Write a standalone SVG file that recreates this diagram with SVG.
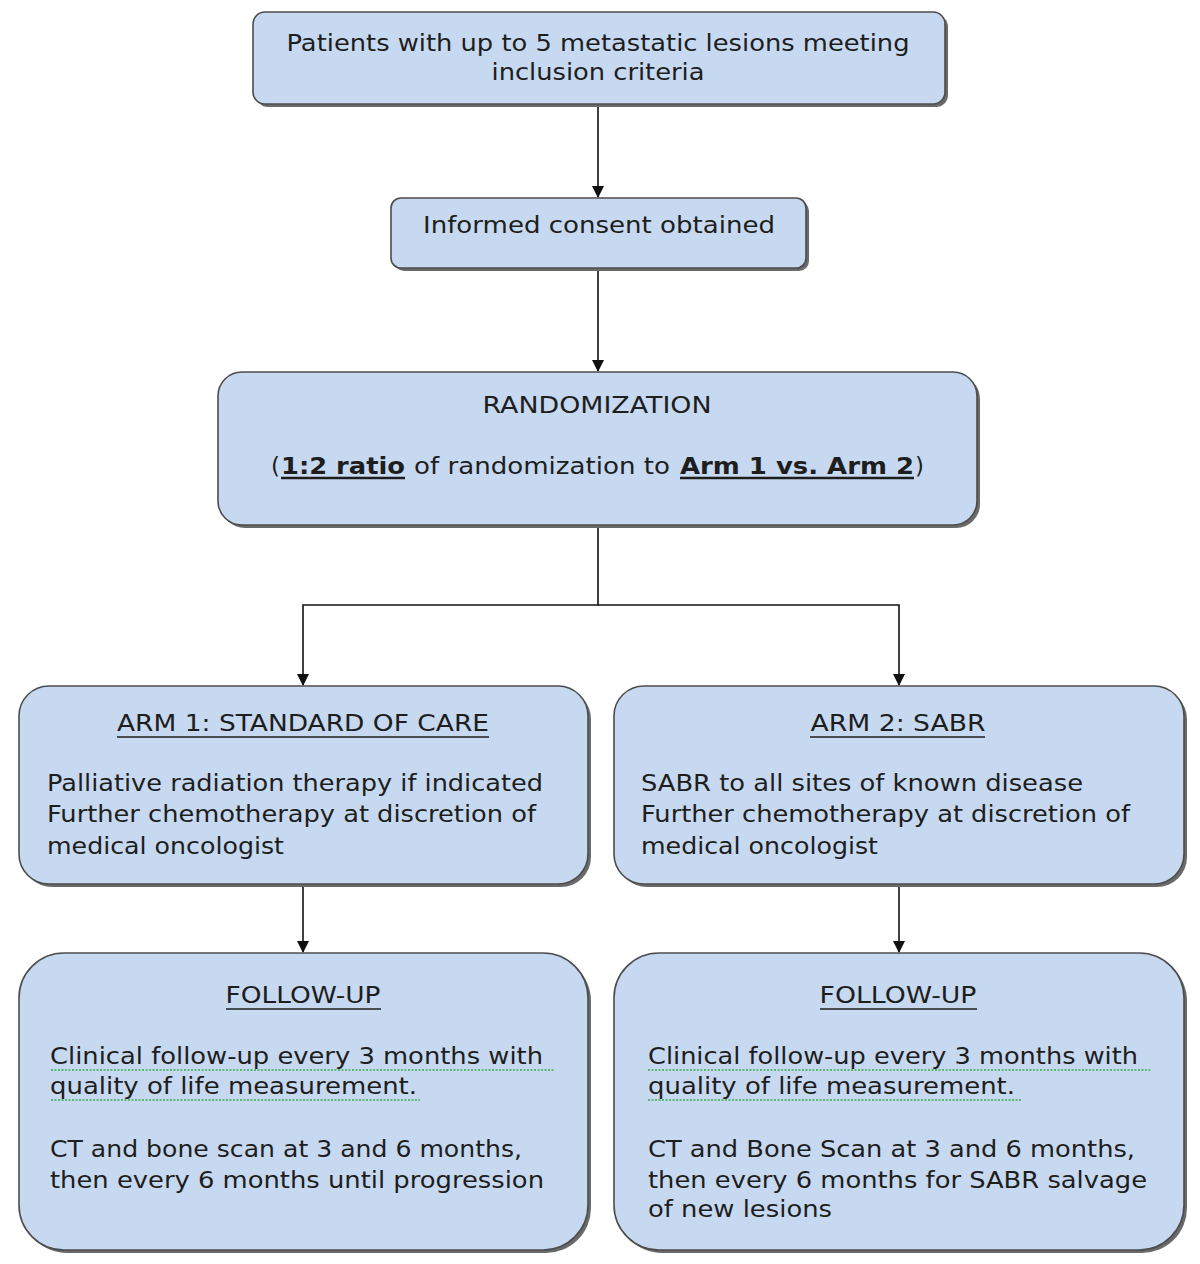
<svg xmlns="http://www.w3.org/2000/svg" width="1200" height="1264" viewBox="0 0 1200 1264">
<defs>
<style>
.box{fill:#c6d9f0;stroke:#4d4d4d;stroke-width:1.6}
.sh{fill:#6a6a6a}
.t{font-family:"DejaVu Sans","Liberation Sans",sans-serif;font-size:23px;fill:#1e1e1e}
.c{text-anchor:middle}
.b{font-weight:bold}
.ul{stroke:#1e1e1e;stroke-width:1.6}
.ulb{stroke:#1e1e1e;stroke-width:2.4}
.sq{stroke:#3aaa4a;stroke-width:1.4;stroke-dasharray:2 1.5;fill:none}
.con{stroke:#111;stroke-width:1.6;fill:none}
</style>
<marker id="ah" markerWidth="12" markerHeight="12" viewBox="0 0 12 12" refX="11" refY="6" orient="auto" markerUnits="userSpaceOnUse">
<path d="M0,0 L12,6 L0,12 Z" fill="#111"/>
</marker>
</defs>

<g id="connectors">
<path class="con" d="M598,104 V197" marker-end="url(#ah)"/>
<path class="con" d="M598,268 V371" marker-end="url(#ah)"/>
<path class="con" d="M598,525 V605 H303 V685" marker-end="url(#ah)"/>
<path class="con" d="M598,605 H899 V685" marker-end="url(#ah)"/>
<path class="con" d="M303,884 V952" marker-end="url(#ah)"/>
<path class="con" d="M899,884 V952" marker-end="url(#ah)"/>
</g>

<g id="n1">
<rect class="sh" x="256" y="15" width="692" height="92" rx="12"/>
<rect class="box" x="253" y="12" width="692" height="92" rx="12"/>
<text class="t c" x="598" y="51" textLength="623" lengthAdjust="spacingAndGlyphs">Patients with up to 5 metastatic lesions meeting</text>
<text class="t c" x="598" y="80" textLength="213" lengthAdjust="spacingAndGlyphs">inclusion criteria</text>
</g>

<g id="n2">
<rect class="sh" x="394" y="201" width="415" height="70" rx="10"/>
<rect class="box" x="391" y="198" width="415" height="70" rx="10"/>
<text class="t c" x="599" y="233" textLength="352" lengthAdjust="spacingAndGlyphs">Informed consent obtained</text>
</g>

<g id="n3">
<rect class="sh" x="221" y="375" width="759" height="153" rx="24"/>
<rect class="box" x="218" y="372" width="759" height="153" rx="24"/>
<text class="t c" x="597" y="413" textLength="229" lengthAdjust="spacingAndGlyphs">RANDOMIZATION</text>
<text class="t" x="271" y="474">(</text>
<text class="t b" x="281" y="474" textLength="124" lengthAdjust="spacingAndGlyphs">1:2 ratio</text>
<line class="ulb" x1="281" y1="478" x2="405" y2="478"/>
<text class="t" x="414" y="474" textLength="256" lengthAdjust="spacingAndGlyphs">of randomization to</text>
<text class="t b" x="680" y="474" textLength="234" lengthAdjust="spacingAndGlyphs">Arm 1 vs. Arm 2</text>
<line class="ulb" x1="680" y1="478" x2="914" y2="478"/>
<text class="t" x="915" y="474">)</text>
</g>

<g id="n4">
<rect class="sh" x="22" y="689" width="569" height="198" rx="30"/>
<rect class="box" x="19" y="686" width="569" height="198" rx="30"/>
<text class="t c" x="303" y="731" textLength="372" lengthAdjust="spacingAndGlyphs">ARM 1: STANDARD OF CARE</text>
<line class="ul" x1="117" y1="737" x2="489" y2="737"/>
<text class="t" x="47" y="791" textLength="496" lengthAdjust="spacingAndGlyphs">Palliative radiation therapy if indicated</text>
<text class="t" x="47" y="822" textLength="489" lengthAdjust="spacingAndGlyphs">Further chemotherapy at discretion of</text>
<text class="t" x="47" y="854" textLength="237" lengthAdjust="spacingAndGlyphs">medical oncologist</text>
</g>

<g id="n5">
<rect class="sh" x="617" y="689" width="570" height="198" rx="30"/>
<rect class="box" x="614" y="686" width="570" height="198" rx="30"/>
<text class="t c" x="898" y="731" textLength="175" lengthAdjust="spacingAndGlyphs">ARM 2: SABR</text>
<line class="ul" x1="810" y1="737" x2="985" y2="737"/>
<text class="t" x="641" y="791" textLength="442" lengthAdjust="spacingAndGlyphs">SABR to all sites of known disease</text>
<text class="t" x="641" y="822" textLength="489" lengthAdjust="spacingAndGlyphs">Further chemotherapy at discretion of</text>
<text class="t" x="641" y="854" textLength="237" lengthAdjust="spacingAndGlyphs">medical oncologist</text>
</g>

<g id="n6">
<rect class="sh" x="22" y="956" width="569" height="297" rx="45"/>
<rect class="box" x="19" y="953" width="569" height="297" rx="45"/>
<text class="t c" x="303" y="1003" textLength="155" lengthAdjust="spacingAndGlyphs">FOLLOW-UP</text>
<line class="ul" x1="226" y1="1009" x2="381" y2="1009"/>
<text class="t" x="50" y="1064" textLength="493" lengthAdjust="spacingAndGlyphs">Clinical follow-up every 3 months with</text>
<path class="sq" d="M51,1070 H554"/>
<text class="t" x="50" y="1094" textLength="367" lengthAdjust="spacingAndGlyphs">quality of life measurement.</text>
<path class="sq" d="M51,1100 H420"/>
<text class="t" x="50" y="1157" textLength="472" lengthAdjust="spacingAndGlyphs">CT and bone scan at 3 and 6 months,</text>
<text class="t" x="50" y="1188" textLength="494" lengthAdjust="spacingAndGlyphs">then every 6 months until progression</text>
</g>

<g id="n7">
<rect class="sh" x="617" y="956" width="570" height="297" rx="45"/>
<rect class="box" x="614" y="953" width="570" height="297" rx="45"/>
<text class="t c" x="898" y="1003" textLength="157" lengthAdjust="spacingAndGlyphs">FOLLOW-UP</text>
<line class="ul" x1="820" y1="1009" x2="977" y2="1009"/>
<text class="t" x="648" y="1064" textLength="490" lengthAdjust="spacingAndGlyphs">Clinical follow-up every 3 months with</text>
<path class="sq" d="M648,1070 H1152"/>
<text class="t" x="648" y="1094" textLength="367" lengthAdjust="spacingAndGlyphs">quality of life measurement.</text>
<path class="sq" d="M648,1100 H1022"/>
<text class="t" x="648" y="1157" textLength="487" lengthAdjust="spacingAndGlyphs">CT and Bone Scan at 3 and 6 months,</text>
<text class="t" x="648" y="1188" textLength="499" lengthAdjust="spacingAndGlyphs">then every 6 months for SABR salvage</text>
<text class="t" x="648" y="1217" textLength="184" lengthAdjust="spacingAndGlyphs">of new lesions</text>
</g>
</svg>
